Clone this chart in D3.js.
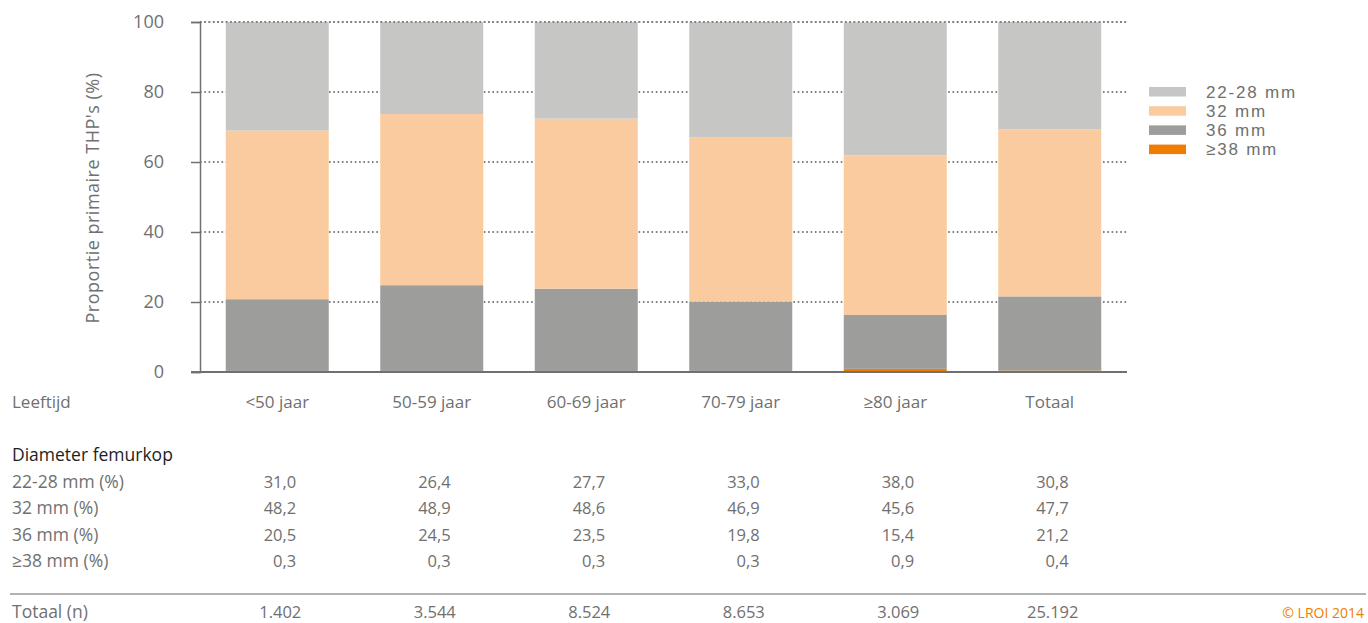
<!DOCTYPE html>
<html><head><meta charset="utf-8">
<script src="https://cdn.jsdelivr.net/npm/d3@7"></script>
<style>
body{margin:0;background:#fff;}
svg{display:block;font-family:"Open Sans",sans-serif;}
</style></head>
<body>
<svg id="c" width="1368" height="623"></svg>
<script>
const categories = ["<50 jaar","50-59 jaar","60-69 jaar","70-79 jaar","≥80 jaar","Totaal"];
const seriesNames = ["22-28 mm","32 mm","36 mm","≥38 mm"];
const rowLabels = ["22-28 mm (%)","32 mm (%)","36 mm (%)","≥38 mm (%)"];
const v2228 = [31.0,26.4,27.7,33.0,38.0,30.8];
const v32   = [48.2,48.9,48.6,46.9,45.6,47.7];
const v36   = [20.5,24.5,23.5,19.8,15.4,21.2];
const v38   = [0.3,0.3,0.3,0.3,0.9,0.4];
const totals = ["1.402","3.544","8.524","8.653","3.069","25.192"];
const yTicks = [0,20,40,60,80,100];
const colors = {"22-28 mm":"#c6c6c5","32 mm":"#fbcba0","36 mm":"#9d9d9c","≥38 mm":"#ef7d00"};

const svg = d3.select("#c");
const textCol = "#707070";
const x = d3.scaleBand().domain(categories).range([200,1127]).paddingInner(1/3).paddingOuter(1/6);
const y = d3.scaleLinear().domain([0,100]).range([372,22]);

const rows = categories.map((c,i)=>({cat:c,"22-28 mm":v2228[i],"32 mm":v32[i],"36 mm":v36[i],"≥38 mm":v38[i]}));
const stack = d3.stack().keys(["≥38 mm","36 mm","32 mm","22-28 mm"]);
const stacked = stack(rows);

// gridlines
svg.append("g").selectAll("line").data(yTicks.filter(t=>t>0)).join("line")
  .attr("x1",200).attr("x2",1127).attr("y1",d=>y(d)).attr("y2",d=>y(d))
  .attr("stroke","#808080").attr("stroke-width",2).attr("stroke-dasharray","1.6,2.7");

// bars
svg.append("g").selectAll("g").data(stacked).join("g").attr("fill",d=>colors[d.key])
  .selectAll("rect").data(d=>d).join("rect")
  .attr("x",d=>x(d.data.cat)).attr("width",x.bandwidth())
  .attr("y",d=>y(Math.min(d[1],100))).attr("height",d=>y(d[0])-y(Math.min(d[1],100)));

// top gridline over bars
svg.append("line").attr("x1",200).attr("x2",1127).attr("y1",y(100)).attr("y2",y(100))
  .attr("stroke","#808080").attr("stroke-width",2).attr("stroke-dasharray","1.6,2.7");

// y axis
const yAxis = d3.axisLeft(y).tickValues(yTicks).tickSize(9).tickPadding(27);
const gy = svg.append("g").attr("transform","translate(200,0)").call(yAxis);
gy.select(".domain").attr("stroke","#707070").attr("stroke-width",1.5);
gy.selectAll(".tick line").attr("stroke","#707070").attr("stroke-width",1.5);
gy.selectAll(".tick text").attr("fill",textCol).attr("font-size",18).attr("font-family","Open Sans");

// x axis line
svg.append("line").attr("x1",191).attr("x2",1127).attr("y1",372).attr("y2",372)
  .attr("stroke","#707070").attr("stroke-width",2);

// y title
svg.append("text").attr("transform","translate(99,198) rotate(-90)").attr("text-anchor","middle")
  .attr("fill",textCol).attr("font-size",18).attr("letter-spacing",0.5).text("Proportie primaire THP's (%)");

// x labels
svg.append("text").attr("x",12).attr("y",408).attr("fill",textCol).attr("font-size",17).text("Leeftijd");
const xAxis = d3.axisBottom(x).tickSize(0).tickPadding(0);
const gx = svg.append("g").attr("transform","translate(0,408)").call(xAxis);
gx.select(".domain").remove();
gx.selectAll(".tick text").attr("fill",textCol).attr("font-size",17).attr("font-family","Open Sans").attr("dy",0);

// legend
const lg = svg.append("g");
seriesNames.forEach((s,i)=>{
  lg.append("rect").attr("x",1149).attr("y",87+i*19.2).attr("width",37).attr("height",9.5).attr("fill",colors[s]);
  lg.append("text").attr("x",1206).attr("y",97.5+i*19.2).attr("fill",textCol).attr("font-size",17)
    .attr("font-family","Liberation Sans").attr("letter-spacing",1.8).text(s);
});

// table
svg.append("text").attr("x",12).attr("y",461).attr("fill","#1e1e1e").attr("font-size",17.5).text("Diameter femurkop");
const tableVals = [v2228,v32,v36,v38];
const fmt = v=>v.toFixed(1).replace(".",",");
tableVals.forEach((arr,r)=>{
  const yy = 488 + r*26.4;
  svg.append("text").attr("x",12).attr("y",yy).attr("fill",textCol).attr("font-size",17.5).text(rowLabels[r]);
  svg.append("g").selectAll("text").data(arr).join("text")
    .attr("x",(d,i)=>x(categories[i])+x.bandwidth()/2+19).attr("y",yy)
    .attr("text-anchor","end").attr("fill",textCol).attr("font-size",16.5).text(d=>fmt(d));
});
svg.append("line").attr("x1",10).attr("x2",1366).attr("y1",594).attr("y2",594).attr("stroke","#9a9a9a").attr("stroke-width",1.5);
svg.append("text").attr("x",12).attr("y",618).attr("fill",textCol).attr("font-size",17.5).text("Totaal (n)");
svg.append("g").selectAll("text").data(totals).join("text")
  .attr("x",(d,i)=>x(categories[i])+x.bandwidth()/2+3).attr("y",618)
  .attr("text-anchor","middle").attr("fill",textCol).attr("font-size",16.5).text(d=>d);
svg.append("text").attr("x",1364).attr("y",618).attr("text-anchor","end").attr("fill","#ef7d00")
  .attr("font-size",14).text("© LROI 2014");
</script>
</body></html>
